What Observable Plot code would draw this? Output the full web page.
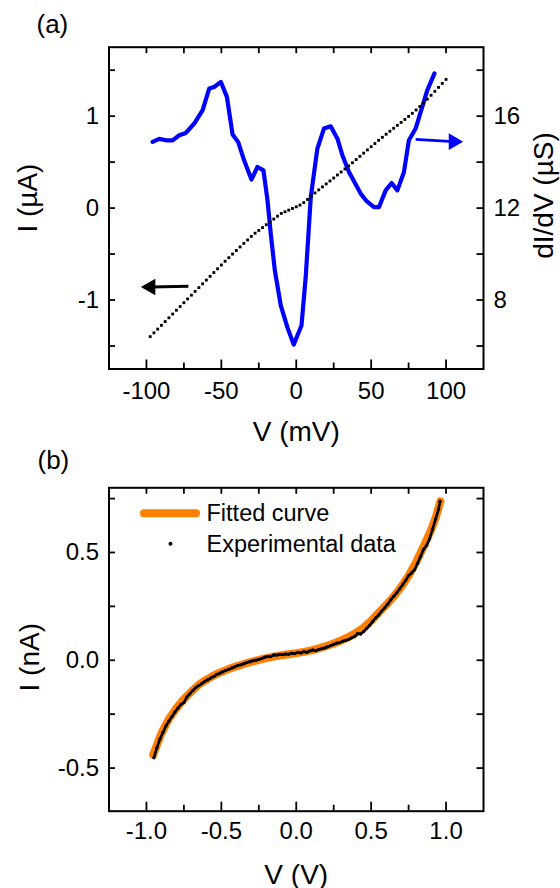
<!DOCTYPE html>
<html><head><meta charset="utf-8">
<script src="https://cdn.jsdelivr.net/npm/d3@7"></script>
<script src="https://cdn.jsdelivr.net/npm/@observablehq/plot@0.6"></script>
<style>
html,body{margin:0;padding:0;background:#fff;}
#chart svg{display:block;}
</style></head><body><div id="chart"></div>
<script>
// ---------- Panel (a): I–V (black dots), V in mV, I in µA ----------
const ivV = [-97.5,-95,-92.5,-90,-87.5,-85,-82.5,-80,-77.5,-75,-72.5,-70,-67.5,-65,-62.5,-60,-57.5,-55,-52.5,-50,
  -47.5,-45,-42.5,-40,-37.5,-35,-32.5,-30,-27.5,-25,-22.5,-20,-17.5,-15,-12.5,-10,-7.5,-5,-2.5,0,
  2.5,5,7.5,10,12.5,15,17.5,20,22.5,25,27.5,30,32.5,35,37.5,40,42.5,45,47.5,50,
  52.5,55,57.5,60,62.5,65,67.5,70,72.5,75,77.5,80,82.5,85,87.5,90,92.5,95,97.5,100];
const ivI = [-1.398,-1.357,-1.316,-1.275,-1.234,-1.193,-1.152,-1.111,-1.070,-1.029,-0.988,-0.947,-0.906,-0.865,-0.824,-0.783,-0.742,-0.701,-0.660,-0.619,
  -0.578,-0.539,-0.500,-0.461,-0.422,-0.384,-0.346,-0.308,-0.273,-0.243,-0.212,-0.181,-0.150,-0.119,-0.088,-0.058,-0.040,-0.022,-0.004,0.014,
  0.033,0.060,0.094,0.130,0.165,0.198,0.231,0.263,0.295,0.327,0.360,0.393,0.426,0.459,0.493,0.528,0.563,0.598,0.633,0.668,
  0.702,0.737,0.770,0.803,0.836,0.868,0.900,0.932,0.964,0.997,1.031,1.067,1.105,1.144,1.185,1.227,1.270,1.313,1.356,1.400];

// Panel (a): dI/dV (blue), µS
const gV = [-95.9,-91.5,-87,-82.5,-78.1,-73.7,-68.1,-62.5,-58.1,-54.8,-50.3,-46.3,-42.5,-38.8,-34.8,-29.9,-25.9,-21.9,-19.2,-17,
  -14.3,-10.3,-5.9,-1.7,3.5,6.3,9.7,14.1,18.5,23,27.5,30.8,35.2,43,47,51.9,55.2,59.7,63.7,67.5,71.9,75.2,79.7,87.5,92.3];
const gG = [14.88,15.01,14.95,14.95,15.17,15.27,15.68,16.26,17.2,17.27,17.49,16.84,15.2,14.88,14.08,13.24,13.79,13.64,12.34,10.88,
  9.29,7.76,6.81,6.06,6.89,8.99,12.48,14.59,15.46,15.56,15.02,14.3,13.57,12.63,12.3,12.04,12.04,12.77,13.09,12.77,13.57,14.95,15.46,17.13,17.86];

// axis ticks (a)
const xLabelsA = [-100,-50,0,50,100];
const xMinorA = [-75,-25,25,75];
const xTopA = [-100,-75,-50,-25,0,25,50,75,100];
const yLabelsA = [-1,0,1];
const yTicksA = [-1.5,-1,-0.5,0,0.5,1,1.5];
const gLabels = [8,12,16];

// arrows (a): tail and head (data units)
const arrowsA = [
  {x1:-72, y1:-0.850, xh:-97.3, yh:-0.858, color:"black", w:3, rot:-90},
  {x1:79.7, y1:0.748, xh:105.0, yh:0.722, color:"#0000ff", w:2.7, rot:90}
];

// ---------- Panel (b): V in V, I in nA ----------
const fitV = [-0.955,-0.93,-0.90,-0.85,-0.80,-0.75,-0.70,-0.65,-0.60,-0.55,-0.50,-0.45,-0.40,-0.35,-0.30,-0.25,-0.20,-0.15,-0.10,-0.05,
  0,0.05,0.10,0.15,0.20,0.25,0.30,0.35,0.40,0.45,0.50,0.55,0.60,0.65,0.70,0.75,0.80,0.85,0.90,0.93,0.962];
const fitI = [-0.438,-0.392,-0.338,-0.272,-0.222,-0.180,-0.145,-0.113,-0.090,-0.070,-0.054,-0.040,-0.028,-0.017,-0.007,0.002,0.010,0.017,0.023,0.028,
  0.033,0.039,0.046,0.055,0.066,0.078,0.092,0.108,0.128,0.152,0.183,0.220,0.256,0.295,0.340,0.392,0.455,0.528,0.605,0.660,0.737];

const expV = [-0.95,-0.93,-0.91,-0.89,-0.87,-0.85,-0.83,-0.81,-0.79,-0.77,-0.75,-0.73,-0.71,-0.69,-0.67,-0.65,-0.63,-0.61,-0.59,-0.57,
  -0.55,-0.53,-0.51,-0.49,-0.47,-0.45,-0.43,-0.41,-0.39,-0.37,-0.35,-0.33,-0.31,-0.29,-0.27,-0.25,-0.23,-0.21,-0.19,-0.17,
  -0.15,-0.13,-0.11,-0.09,-0.07,-0.05,-0.03,-0.01,0.01,0.03,0.05,0.07,0.09,0.11,0.13,0.15,0.17,0.19,0.21,0.23,
  0.25,0.27,0.29,0.31,0.33,0.35,0.37,0.39,0.41,0.43,0.45,0.47,0.49,0.51,0.53,0.55,0.57,0.59,0.61,0.63,
  0.65,0.67,0.69,0.71,0.73,0.75,0.77,0.79,0.81,0.83,0.85,0.87,0.89,0.91,0.93,0.95,0.96];
const expI = [-0.452,-0.405,-0.365,-0.335,-0.305,-0.282,-0.262,-0.240,-0.222,-0.205,-0.196,-0.170,-0.155,-0.140,-0.126,-0.117,-0.108,-0.098,-0.090,-0.082,
  -0.075,-0.066,-0.060,-0.053,-0.047,-0.042,-0.036,-0.030,-0.024,-0.021,-0.016,-0.010,-0.007,-0.002,0.000,0.004,0.008,0.014,0.018,0.017,
  0.025,0.024,0.027,0.026,0.029,0.028,0.033,0.031,0.036,0.034,0.040,0.037,0.043,0.048,0.044,0.050,0.054,0.057,0.063,0.068,
  0.074,0.079,0.082,0.088,0.092,0.097,0.104,0.110,0.124,0.122,0.133,0.148,0.162,0.180,0.196,0.210,0.228,0.243,0.260,0.280,
  0.296,0.312,0.331,0.350,0.370,0.393,0.405,0.420,0.450,0.482,0.515,0.532,0.563,0.608,0.655,0.700,0.738];

const xLabelsB = [-1,-0.5,0,0.5,1];
const xMinorB = [-0.75,-0.25,0.25,0.75];
const xTopB = [-1,-0.75,-0.5,-0.25,0,0.25,0.5,0.75,1];
const yLabelsB = [-0.5,0,0.5];
const yTicksB = [-0.5,-0.25,0,0.25,0.5,0.75];
const legendLabels = ["Fitted curve","Experimental data"];
const ORANGE = "#ff7f00", BLUE = "#0000ff";

// ---------- build ----------
const iv = ivV.map((v,i)=>({V:v, I:ivI[i]}));
const gd = gV.map((v,i)=>({V:v, G:gG[i]}));
const fit = fitV.map((v,i)=>({V:v, I:fitI[i]}));
const exp = expV.map((v,i)=>({V:v, I:expI[i]}));

const W = 560, H = 444;
const FONT = "'Liberation Sans', Arial, Helvetica, sans-serif";
const TICK_FS = 24, TITLE_FS = 28;

function frameTicks(pw, ph, xMajor, xMinor, xTop, yTicks) {
  return [
    Plot.ruleX(xMajor, {insetTop: ph - 9, strokeWidth: 1.8}),
    Plot.ruleX(xMinor, {insetTop: ph - 6, strokeWidth: 1.8}),
    Plot.ruleX(xTop, {insetBottom: ph - 6.5, strokeWidth: 1.8}),
    Plot.ruleY(yTicks, {insetRight: pw - 6.5, strokeWidth: 1.8}),
    Plot.ruleY(yTicks, {insetLeft: pw - 6.5, strokeWidth: 1.8}),
    Plot.frame({stroke: "black", strokeWidth: 2})
  ];
}

// Panel A
const mA = {top: 46.7, bottom: 75.5, left: 108.5, right: 77};
const pwA = W - mA.left - mA.right, phA = H - mA.top - mA.bottom;
const svgA = Plot.plot({
  width: W, height: H,
  marginTop: mA.top, marginBottom: mA.bottom, marginLeft: mA.left, marginRight: mA.right,
  style: {fontFamily: FONT, fontSize: TICK_FS + "px", background: "white", color: "black", overflow: "visible"},
  x: {domain: [-125, 125]},
  y: {domain: [-1.75, 1.75]},
  marks: [
    Plot.line(gd, {x: "V", y: d => (d.G - 12) / 4, stroke: BLUE, strokeWidth: 4.2}),
    Plot.dot(iv, {x: "V", y: "I", symbol: "square", r: 1.6, fill: "black", stroke: null}),
    Plot.link(arrowsA, {x1: "x1", y1: "y1", x2: "xh", y2: "yh", stroke: d => d.color, strokeWidth: d => d.w, strokeLinecap: "butt"}),
    Plot.dot(arrowsA, {x: "xh", y: "yh", symbol: "triangle", r: 6.2, rotate: d => d.rot, fill: d => d.color, stroke: null}),
    ...frameTicks(pwA, phA, xLabelsA, xMinorA, xTopA, yTicksA),
    Plot.axisX({ticks: xLabelsA, tickSize: 0, tickPadding: 13, tickFormat: d => String(d), label: null, fontSize: TICK_FS}),
    Plot.axisY({anchor: "left", ticks: yLabelsA, tickSize: 0, tickPadding: 10, tickFormat: d => String(d), label: null, fontSize: TICK_FS}),
    Plot.axisY({anchor: "right", ticks: yLabelsA, tickSize: 0, tickPadding: 10, tickFormat: (d, i) => String(gLabels[i]), label: null, fontSize: TICK_FS}),
    Plot.text(["V (mV)"], {frameAnchor: "bottom", dy: 71.5, lineAnchor: "bottom", textAnchor: "middle", fontSize: TITLE_FS}),
    Plot.text(["I (\u00b5A)"], {frameAnchor: "left", dx: -80.5, dy: -10, rotate: -90, textAnchor: "middle", lineAnchor: "middle", fontSize: TITLE_FS}),
    Plot.text(["dI/dV (\u00b5S)"], {frameAnchor: "right", dx: 61, dy: -12.6, rotate: -90, textAnchor: "middle", lineAnchor: "middle", fontSize: TITLE_FS}),
    Plot.text(["(a)"], {frameAnchor: "top-left", dx: 36 - mA.left, dy: 32 - mA.top, lineAnchor: "bottom", textAnchor: "start", fontSize: 26})
  ]
});

// Panel B
const mB = {top: 43.3, bottom: 77.3, left: 108.5, right: 77};
const pwB = W - mB.left - mB.right, phB = H - mB.top - mB.bottom;
const svgB = Plot.plot({
  width: W, height: H,
  marginTop: mB.top, marginBottom: mB.bottom, marginLeft: mB.left, marginRight: mB.right,
  style: {fontFamily: FONT, fontSize: TICK_FS + "px", background: "white", color: "black", overflow: "visible"},
  x: {domain: [-1.25, 1.25]},
  y: {domain: [-0.7, 0.8]},
  marks: [
    Plot.line(fit, {x: "V", y: "I", stroke: ORANGE, strokeWidth: 8, strokeLinecap: "round"}),
    Plot.line(exp, {x: "V", y: "I", stroke: "black", strokeWidth: 2.6}),
    Plot.dot(exp, {x: "V", y: "I", r: 1.7, fill: "black", stroke: null}),
    ...frameTicks(pwB, phB, xLabelsB, xMinorB, xTopB, yTicksB),
    Plot.axisX({ticks: xLabelsB, tickSize: 0, tickPadding: 11, tickFormat: d => d.toFixed(1), label: null, fontSize: TICK_FS}),
    Plot.axisY({anchor: "left", ticks: yLabelsB, tickSize: 0, tickPadding: 10, tickFormat: d => d.toFixed(1), label: null, fontSize: TICK_FS}),
    Plot.text(["V (V)"], {frameAnchor: "bottom", dy: 72.3, lineAnchor: "bottom", textAnchor: "middle", fontSize: TITLE_FS}),
    Plot.text(["I (nA)"], {frameAnchor: "left", dx: -79, dy: 7.7, rotate: -90, textAnchor: "middle", lineAnchor: "middle", fontSize: TITLE_FS}),
    Plot.text(["(b)"], {frameAnchor: "top-left", dx: 37 - mB.left, dy: 468.5 - 444 - mB.top, lineAnchor: "bottom", textAnchor: "start", fontSize: 26}),
    // legend
    Plot.text([legendLabels[0]], {frameAnchor: "top-left", dx: 206 - mB.left, dy: 76.7 - mB.top, lineAnchor: "bottom", textAnchor: "start", fontSize: 23.5}),
    Plot.text([legendLabels[1]], {frameAnchor: "top-left", dx: 206 - mB.left, dy: 107 - mB.top, lineAnchor: "bottom", textAnchor: "start", fontSize: 23.5}),
    Plot.dot([legendLabels[1]], {frameAnchor: "top-left", dx: 170 - mB.left, dy: 99.3 - mB.top, r: 2, fill: "black", stroke: null})
  ]
});
// orange legend swatch
d3.select(svgB).append("line")
  .attr("x1", 144).attr("x2", 196).attr("y1", 69.3).attr("y2", 69.3)
  .attr("stroke", ORANGE).attr("stroke-width", 8).attr("stroke-linecap", "round");

const root = document.getElementById("chart");
root.appendChild(svgA);
root.appendChild(svgB);
</script></body></html>
